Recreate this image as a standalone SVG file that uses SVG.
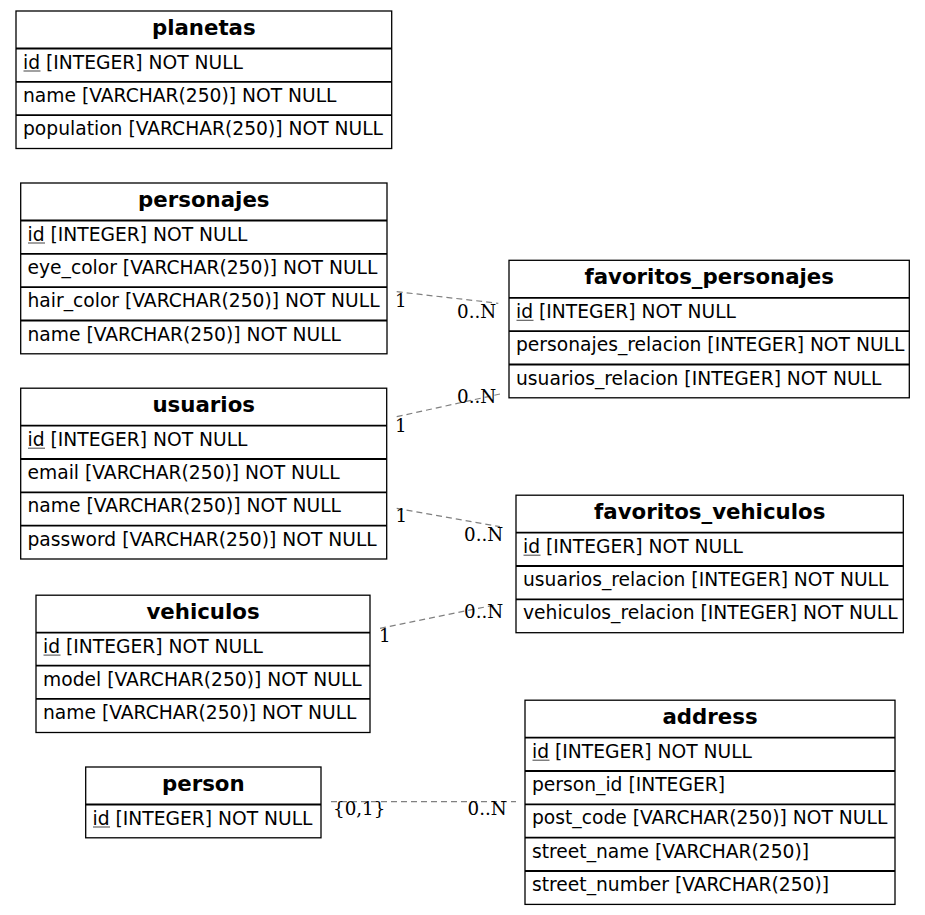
<svg xmlns="http://www.w3.org/2000/svg" width="925" height="915" viewBox="0 0 925 915">
<style>
.box{fill:#fff;stroke:#000;stroke-width:1.3}
.sep{stroke:#000;stroke-width:1.8}
.hd{font-family:"DejaVu Sans",sans-serif;font-weight:bold;font-size:21.3px;text-anchor:middle;fill:#000}
.rw{font-family:"DejaVu Sans",sans-serif;font-size:18.7px;fill:#000}
.ul{stroke:#555;stroke-width:1.1}
.edge{stroke:#808080;stroke-width:1.2;stroke-dasharray:6,4;fill:none}
.lb{font-family:"DejaVu Serif",serif;font-size:18.3px;fill:#000}
</style>
<rect width="925" height="915" fill="#fff"/>
<g id="connectors">
<line class="edge" x1="396.7" y1="291.7" x2="498.3" y2="303.3"/>
<line class="edge" x1="396.7" y1="416.7" x2="500" y2="394"/>
<line class="edge" x1="396.7" y1="508.3" x2="500" y2="526.7"/>
<line class="edge" x1="380" y1="628.3" x2="498.3" y2="604.3"/>
<line class="edge" x1="331" y1="801.7" x2="516" y2="801.7"/>
<text class="lb" x="395" y="306.5">1</text>
<text class="lb" x="457" y="318.3">0..N</text>
<text class="lb" x="457" y="403.3">0..N</text>
<text class="lb" x="395" y="432.3">1</text>
<text class="lb" x="395.5" y="522.3">1</text>
<text class="lb" x="464" y="540.7">0..N</text>
<text class="lb" x="379" y="642.3">1</text>
<text class="lb" x="464" y="618.3">0..N</text>
<text class="lb" x="333" y="815">{0,1}</text>
<text class="lb" x="467.5" y="815">0..N</text>
</g>
<g id="planetas">
<rect class="box" x="16" y="11" width="375.7" height="137.5"/>
<line class="sep" x1="16" y1="48.5" x2="391.7" y2="48.5"/>
<line class="sep" x1="16" y1="81.8" x2="391.7" y2="81.8"/>
<line class="sep" x1="16" y1="115.2" x2="391.7" y2="115.2"/>
<text class="hd" x="203.8" y="34.5">planetas</text>
<text class="rw" x="23" y="68.5">id [INTEGER] NOT NULL</text>
<line class="ul" x1="23.5" y1="71" x2="40.5" y2="71"/>
<text class="rw" x="23" y="101.8">name [VARCHAR(250)] NOT NULL</text>
<text class="rw" x="23" y="135.2">population [VARCHAR(250)] NOT NULL</text>
</g>
<g id="personajes">
<rect class="box" x="20.7" y="183" width="366.3" height="170.8"/>
<line class="sep" x1="20.7" y1="220.5" x2="387" y2="220.5"/>
<line class="sep" x1="20.7" y1="253.8" x2="387" y2="253.8"/>
<line class="sep" x1="20.7" y1="287.2" x2="387" y2="287.2"/>
<line class="sep" x1="20.7" y1="320.5" x2="387" y2="320.5"/>
<text class="hd" x="203.8" y="206.5">personajes</text>
<text class="rw" x="27.5" y="240.5">id [INTEGER] NOT NULL</text>
<line class="ul" x1="28" y1="243" x2="45" y2="243"/>
<text class="rw" x="27.5" y="273.8">eye_color [VARCHAR(250)] NOT NULL</text>
<text class="rw" x="27.5" y="307.2">hair_color [VARCHAR(250)] NOT NULL</text>
<text class="rw" x="27.5" y="340.5">name [VARCHAR(250)] NOT NULL</text>
</g>
<g id="favoritos_personajes">
<rect class="box" x="509" y="260.3" width="400.3" height="137.5"/>
<line class="sep" x1="509" y1="297.8" x2="909.3" y2="297.8"/>
<line class="sep" x1="509" y1="331.1" x2="909.3" y2="331.1"/>
<line class="sep" x1="509" y1="364.5" x2="909.3" y2="364.5"/>
<text class="hd" x="709.2" y="283.8">favoritos_personajes</text>
<text class="rw" x="516" y="317.8">id [INTEGER] NOT NULL</text>
<line class="ul" x1="516.5" y1="320.3" x2="533.5" y2="320.3"/>
<text class="rw" x="516" y="351.1">personajes_relacion [INTEGER] NOT NULL</text>
<text class="rw" x="516" y="384.5">usuarios_relacion [INTEGER] NOT NULL</text>
</g>
<g id="usuarios">
<rect class="box" x="20.7" y="388.2" width="366" height="170.8"/>
<line class="sep" x1="20.7" y1="425.7" x2="386.7" y2="425.7"/>
<line class="sep" x1="20.7" y1="459" x2="386.7" y2="459"/>
<line class="sep" x1="20.7" y1="492.4" x2="386.7" y2="492.4"/>
<line class="sep" x1="20.7" y1="525.7" x2="386.7" y2="525.7"/>
<text class="hd" x="203.7" y="411.7">usuarios</text>
<text class="rw" x="27.5" y="445.7">id [INTEGER] NOT NULL</text>
<line class="ul" x1="28" y1="448.2" x2="45" y2="448.2"/>
<text class="rw" x="27.5" y="479">email [VARCHAR(250)] NOT NULL</text>
<text class="rw" x="27.5" y="512.4">name [VARCHAR(250)] NOT NULL</text>
<text class="rw" x="27.5" y="545.7">password [VARCHAR(250)] NOT NULL</text>
</g>
<g id="favoritos_vehiculos">
<rect class="box" x="516" y="495.2" width="387.3" height="137.5"/>
<line class="sep" x1="516" y1="532.7" x2="903.3" y2="532.7"/>
<line class="sep" x1="516" y1="566" x2="903.3" y2="566"/>
<line class="sep" x1="516" y1="599.4" x2="903.3" y2="599.4"/>
<text class="hd" x="709.7" y="518.7">favoritos_vehiculos</text>
<text class="rw" x="523" y="552.7">id [INTEGER] NOT NULL</text>
<line class="ul" x1="523.5" y1="555.2" x2="540.5" y2="555.2"/>
<text class="rw" x="523" y="586">usuarios_relacion [INTEGER] NOT NULL</text>
<text class="rw" x="523" y="619.4">vehiculos_relacion [INTEGER] NOT NULL</text>
</g>
<g id="vehiculos">
<rect class="box" x="36" y="595.2" width="334" height="137.3"/>
<line class="sep" x1="36" y1="632.7" x2="370" y2="632.7"/>
<line class="sep" x1="36" y1="665.6" x2="370" y2="665.6"/>
<line class="sep" x1="36" y1="698.8" x2="370" y2="698.8"/>
<text class="hd" x="203" y="618.7">vehiculos</text>
<text class="rw" x="43" y="652.6">id [INTEGER] NOT NULL</text>
<line class="ul" x1="43.5" y1="655.1" x2="60.5" y2="655.1"/>
<text class="rw" x="43" y="685.8">model [VARCHAR(250)] NOT NULL</text>
<text class="rw" x="43" y="719">name [VARCHAR(250)] NOT NULL</text>
</g>
<g id="address">
<rect class="box" x="525" y="700.2" width="370" height="204.2"/>
<line class="sep" x1="525" y1="737.7" x2="895" y2="737.7"/>
<line class="sep" x1="525" y1="771" x2="895" y2="771"/>
<line class="sep" x1="525" y1="804.4" x2="895" y2="804.4"/>
<line class="sep" x1="525" y1="837.7" x2="895" y2="837.7"/>
<line class="sep" x1="525" y1="871" x2="895" y2="871"/>
<text class="hd" x="710" y="723.7">address</text>
<text class="rw" x="532" y="757.7">id [INTEGER] NOT NULL</text>
<line class="ul" x1="532.5" y1="760.2" x2="549.5" y2="760.2"/>
<text class="rw" x="532" y="791">person_id [INTEGER]</text>
<text class="rw" x="532" y="824.4">post_code [VARCHAR(250)] NOT NULL</text>
<text class="rw" x="532" y="857.7">street_name [VARCHAR(250)]</text>
<text class="rw" x="532" y="891">street_number [VARCHAR(250)]</text>
</g>
<g id="person">
<rect class="box" x="85.7" y="767" width="235.3" height="70.8"/>
<line class="sep" x1="85.7" y1="804.5" x2="321" y2="804.5"/>
<text class="hd" x="203.3" y="790.5">person</text>
<text class="rw" x="92.5" y="824.5">id [INTEGER] NOT NULL</text>
<line class="ul" x1="93" y1="827" x2="110" y2="827"/>
</g>
</svg>
